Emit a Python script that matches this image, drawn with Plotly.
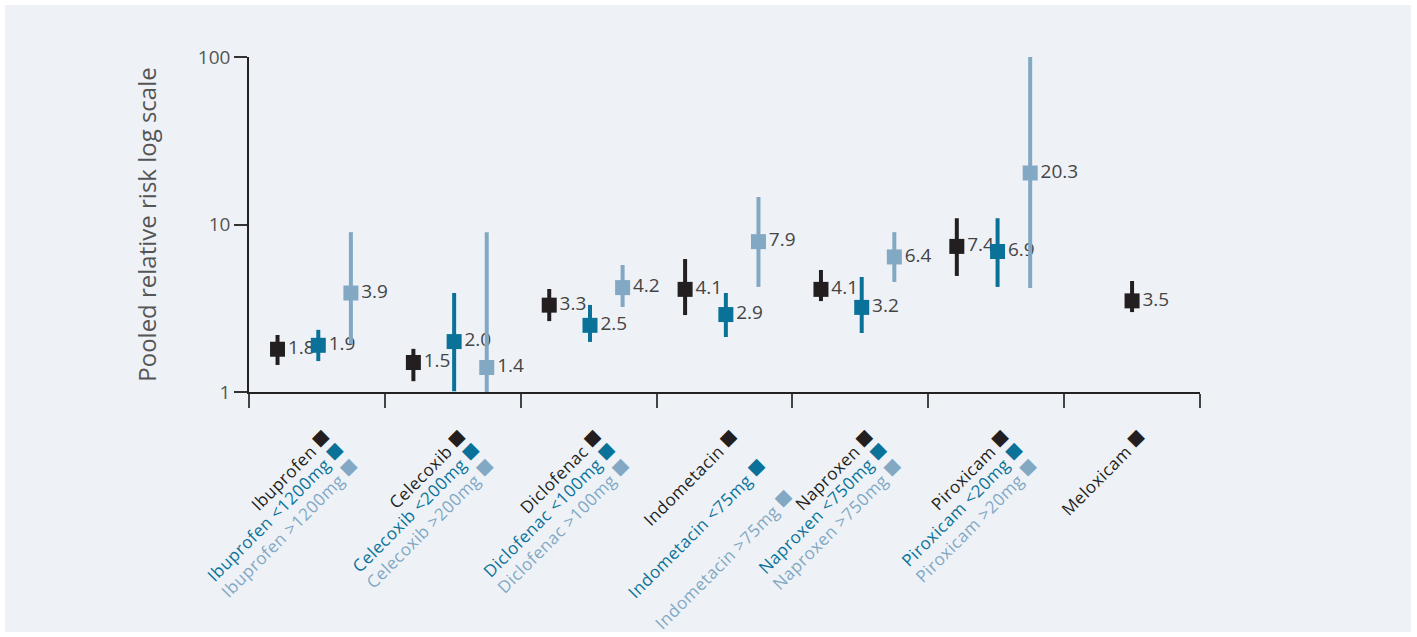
import plotly.graph_objects as go

# Drugs and dose subgroups
drugs = ["Ibuprofen", "Celecoxib", "Diclofenac", "Indometacin", "Naproxen", "Piroxicam", "Meloxicam"]
low_dose_labels = ["Ibuprofen <1200mg", "Celecoxib <200mg", "Diclofenac <100mg",
                   "Indometacin <75mg", "Naproxen <750mg", "Piroxicam <20mg"]
high_dose_labels = ["Ibuprofen >1200mg", "Celecoxib >200mg", "Diclofenac >100mg",
                    "Indometacin >75mg", "Naproxen >750mg", "Piroxicam >20mg"]

# Pooled relative risk with 95% CI - all doses
overall_rr = [1.8, 1.5, 3.3, 4.1, 4.1, 7.4, 3.5]
overall_lo = [1.45, 1.16, 2.65, 2.88, 3.49, 4.93, 3.0]
overall_hi = [2.19, 1.81, 4.12, 6.22, 5.35, 10.9, 4.6]

# Low dose
low_rr = [1.9, 2.0, 2.5, 2.9, 3.2, 6.9]
low_lo = [1.53, 1.01, 1.99, 2.13, 2.25, 4.24]
low_hi = [2.35, 3.9, 3.31, 3.9, 4.86, 10.9]

# High dose
high_rr = [3.9, 1.4, 4.2, 7.9, 6.4, 20.3]
high_lo = [1.93, 0.46, 3.22, 4.24, 4.54, 4.18]
high_hi = [9.0, 9.0, 5.73, 14.6, 9.0, 100]

C_ALL = "#231f20"
C_LOW = "#0a7298"
C_HIGH = "#82a8c4"
C_TEXT = "#444444"
FONT = "Open Sans"

n_low = len(low_rr)
centers = [i + 0.5 for i in range(len(drugs))]

x_all = [c - 0.29 if i < n_low else c for i, c in enumerate(centers)]
x_low = [centers[i] + 0.01 for i in range(n_low)]
x_high = [centers[i] + 0.25 for i in range(n_low)]


def ci_trace(x, rr, lo, hi, color):
    return go.Scatter(
        x=x, y=rr, mode="markers+text",
        marker=dict(symbol="square", size=15, color=color, line=dict(width=0)),
        error_y=dict(type="data", symmetric=False,
                     array=[h - r for h, r in zip(hi, rr)],
                     arrayminus=[r - l for r, l in zip(rr, lo)],
                     color=color, thickness=4, width=0),
        text=[f"{v:.1f}" for v in rr], textposition="middle right",
        textfont=dict(family=FONT, size=19, color=C_TEXT),
        cliponaxis=False, showlegend=False, hoverinfo="skip",
    )


fig = go.Figure()
fig.add_trace(ci_trace(x_all, overall_rr, overall_lo, overall_hi, C_ALL))
fig.add_trace(ci_trace(x_low, low_rr, low_lo, low_hi, C_LOW))
fig.add_trace(ci_trace(x_high, high_rr, high_lo, high_hi, C_HIGH))


def esc(s):
    return s.replace("<", "&lt;").replace(">", "&gt;")


def label(s):
    return (f"<span style='letter-spacing:0.5px'>{esc(s)}</span> "
            f"<span style='font-size:26px'>■</span>")


L, T, W, H = 249, 57, 951, 335
LABEL_SIZE = 17
BASE_STANDOFF, BASE_SHIFT = 27, 9
STEP_DOWN, STEP_RIGHT = 16.5, 14

# Rows of rotated category labels: (tick positions, texts, colour, line index)
label_rows = [(centers, [label(d) for d in drugs], C_ALL, 0)]
spread_idx = drugs.index("Indometacin")  # this name's dose labels sit one extra line apart
normal = [i for i in range(n_low) if i != spread_idx]
label_rows += [
    ([centers[i] for i in normal], [label(low_dose_labels[i]) for i in normal], C_LOW, 1),
    ([centers[i] for i in normal], [label(high_dose_labels[i]) for i in normal], C_HIGH, 2),
    ([centers[spread_idx]], [label(low_dose_labels[spread_idx])], C_LOW, 2),
    ([centers[spread_idx]], [label(high_dose_labels[spread_idx])], C_HIGH, 3.9),
]

axis_common = dict(range=[0, len(drugs)], tickangle=-45, ticks="", showgrid=False,
                   zeroline=False, automargin=False)
layout_axes = {}
for k, (vals, texts, color, line) in enumerate(label_rows):
    ax = dict(axis_common, tickvals=vals, ticktext=texts,
              tickfont=dict(family=FONT, size=LABEL_SIZE, color=color),
              ticklabelstandoff=round(BASE_STANDOFF + STEP_DOWN * line),
              ticklabelshift=round(BASE_SHIFT + STEP_RIGHT * line))
    if k == 0:
        ax.update(showline=True, linecolor="#222222", linewidth=1.5,
                  minor=dict(tickvals=list(range(len(drugs) + 1)), ticks="outside",
                             ticklen=14, tickwidth=1.5, tickcolor="#444444",
                             showgrid=False))
        layout_axes["xaxis"] = ax
    else:
        ax.update(overlaying="x", anchor="y", showline=False)
        layout_axes[f"xaxis{k + 1}"] = ax
        # empty trace so the overlaid label axis gets drawn
        fig.add_trace(go.Scatter(x=[], y=[], xaxis=f"x{k + 1}", yaxis="y",
                                 showlegend=False, hoverinfo="skip"))

fig.update_layout(
    width=1417, height=637,
    margin=dict(l=L, r=1417 - L - W, t=T, b=637 - T - H),
    paper_bgcolor="white", plot_bgcolor="rgba(0,0,0,0)",
    font=dict(family=FONT, color=C_TEXT),
    yaxis=dict(
        type="log", range=[0, 2], tickvals=[1, 10, 100], ticktext=["1", "10", "100"],
        ticks="outside", ticklen=13, tickwidth=1.5, tickcolor="#333333",
        tickfont=dict(family=FONT, size=19, color="#555555"), automargin=False,
        showgrid=False, zeroline=False, showline=True, linecolor="#222222", linewidth=1.5,
        title=dict(text="Pooled relative risk log scale",
                   font=dict(family=FONT, size=24, color="#555555"), standoff=34),
    ),
    shapes=[dict(type="rect", xref="paper", yref="paper", layer="below",
                 x0=(5 - L) / W, x1=(1411 - L) / W,
                 y0=(T + H - 632) / H, y1=(T + H - 5) / H,
                 fillcolor="#eef2f7", line=dict(width=0))],
    **layout_axes,
)

fig.write_html("out.html")
